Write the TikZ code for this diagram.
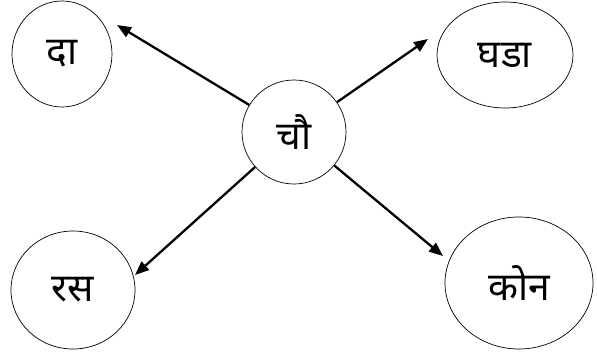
\documentclass[tikz,border=0pt]{standalone}
\usepackage{fontspec}
\newfontfamily\deva[Script=Devanagari]{Noto Sans}
\usetikzlibrary{shapes.geometric,arrows.meta}
\begin{document}
\begin{tikzpicture}
  [x=1pt,y=-1pt,every node/.style={ellipse,draw,line width=.7pt,inner sep=0pt,font=\deva\fontsize{39}{39}\selectfont}]
  \useasboundingbox (0,0) rectangle (597,359);
  \node[minimum width=104pt,minimum height=104pt] (chau)  at (294,132) {चौ};
  \node[minimum width=100pt,minimum height=106pt] (da)    at (62,54)   {दा};
  \node[minimum width=136pt,minimum height=106pt] (ghada) at (505,55)  {घडा};
  \node[minimum width=124pt,minimum height=118pt] (ras)   at (73,290)  {रस};
  \node[minimum width=148pt,minimum height=132pt] (kon)   at (519,283) {कोन};

  \coordinate (tDa)    at (117,25);
  \coordinate (tGhada) at (428,39);
  \coordinate (tRas)   at (135,275);
  \coordinate (tKon)   at (443,256);

  \foreach \to in {tDa,tGhada,tRas,tKon}
    \draw [line width=2.3pt,-{Triangle[length=14pt,width=11pt]}] (chau) -- (\to);
\end{tikzpicture}
\end{document}
